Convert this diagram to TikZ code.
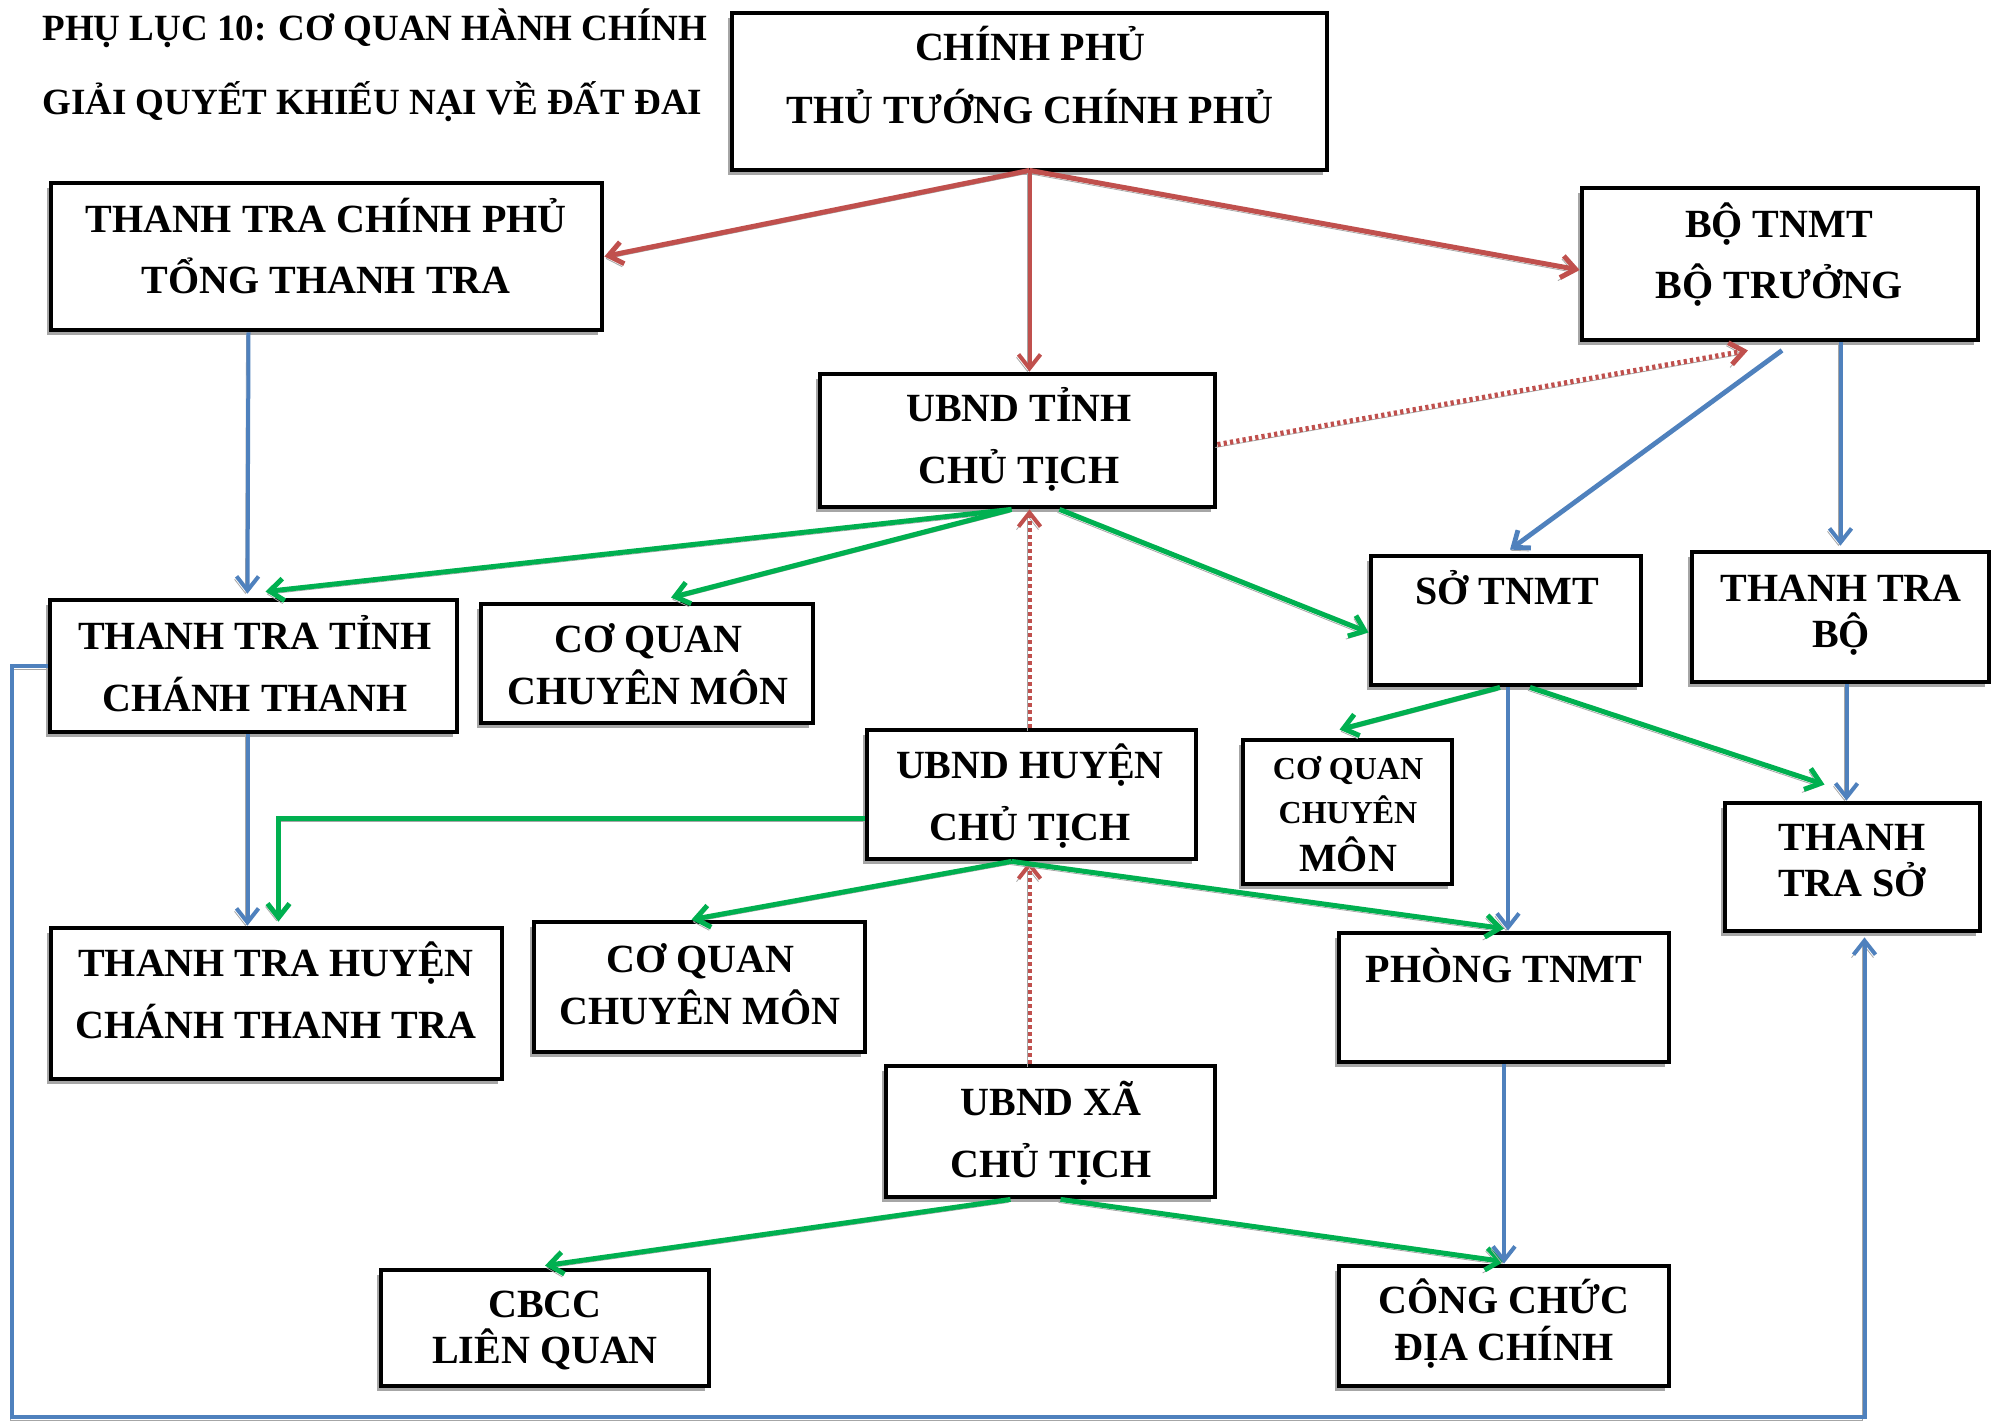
\documentclass[tikz,border=0pt]{standalone}
\usepackage{fontspec}
\setmainfont{Liberation Serif}
\usetikzlibrary{arrows.meta,fit,calc,shadows}
\definecolor{cred}{HTML}{C0504D}
\definecolor{cgreen}{HTML}{00B050}
\definecolor{cblue}{HTML}{4F81BD}
\definecolor{cshadow}{HTML}{A6A6A6}
\begin{document}
\begin{tikzpicture}[x=0.5pt,y=-0.5pt,
  box/.style={draw=black, line width=2.4pt, fill=white, inner sep=0pt,
    drop shadow={shadow xshift=-2pt, shadow yshift=-2.5pt, fill=cshadow, opacity=1}},
  txt/.style={font=\fontsize{20}{24}\selectfont\bfseries, inner sep=0pt, text height=13.2pt, text depth=0pt},
  stxt/.style={font=\fontsize{16}{19}\selectfont\bfseries, inner sep=0pt, text height=10.6pt, text depth=0pt},
  ttl/.style={font=\fontsize{18.5}{22}\selectfont\bfseries, inner sep=0pt, text height=12.25pt, text depth=0pt, anchor=west},
  tip/.style={-{Straight Barb[length=7pt,width=11pt]}},
  shd/.style={preaction={draw=cshadow, transform canvas={xshift=-1pt,yshift=-1.5pt}}},
  redthick/.style={draw=cred, line width=2.5pt, tip, shd},
  redthin/.style={draw=cred, line width=2pt, tip, shd},
  reddot/.style={draw=cred, line width=2.5pt, dash pattern=on 1.6pt off 1.6pt, tip, shd},
  reddash/.style={draw=cred, line width=2pt, dash pattern=on 2pt off 1.5pt, tip, shd},
  grn/.style={draw=cgreen, line width=2.5pt, tip, shd},
  blu/.style={draw=cblue, line width=2pt, tip, shd},
  bluthick/.style={draw=cblue, line width=2.4pt, tip, shd},
]
\useasboundingbox (0,0) rectangle (2007,1421);
\fill[white] (0,0) rectangle (2007,1421);

% title
\node[ttl] (t1) at (42,28) {PHỤ LỤC 10: CƠ QUAN HÀNH CHÍNH};
\node[ttl] (t2) at (42,102) {GIẢI QUYẾT KHIẾU NẠI VỀ ĐẤT ĐAI};

% boxes
\node[box, fit={(732,13)(1327,170)}] (cp) {};
\node[box, fit={(51,183)(602,330)}] (ttcp) {};
\node[box, fit={(1582,188)(1978,340)}] (bo) {};
\node[box, fit={(820,374)(1215,507)}] (ubt) {};
\node[box, fit={(50,600)(457,732)}] (ttt) {};
\node[box, fit={(481,604)(813,723)}] (cqa) {};
\node[box, fit={(1371,556)(1641,685)}] (so) {};
\node[box, fit={(1692,552)(1989,682)}] (ttb) {};
\node[box, fit={(867,730)(1196,859)}] (ubh) {};
\node[box, fit={(1243,740)(1452,884)}] (cqc) {};
\node[box, fit={(1725,803)(1980,931)}] (tts) {};
\node[box, fit={(51,928)(502,1079)}] (tth) {};
\node[box, fit={(534,922)(865,1052)}] (cqb) {};
\node[box, fit={(1339,933)(1669,1062)}] (ph) {};
\node[box, fit={(886,1066)(1215,1197)}] (ubx) {};
\node[box, fit={(381,1270)(709,1386)}] (cbcc) {};
\node[box, fit={(1339,1266)(1669,1386)}] (ccdc) {};

% texts
\node[txt] (cp1) at (1030,47) {CHÍNH PHỦ};
\node[txt] (cp2) at (1030,110) {THỦ TƯỚNG CHÍNH PHỦ};
\node[txt] (ttcp1) at (326,219) {THANH TRA CHÍNH PHỦ};
\node[txt] (ttcp2) at (326,280) {TỔNG THANH TRA};
\node[txt] (bo1) at (1779,224) {BỘ TNMT};
\node[txt] (bo2) at (1779,285) {BỘ TRƯỞNG};
\node[txt] (ubt1) at (1019,408) {UBND TỈNH};
\node[txt] (ubt2) at (1019,470) {CHỦ TỊCH};
\node[txt] (ttt1) at (255,636) {THANH TRA TỈNH};
\node[txt] (ttt2) at (255,698) {CHÁNH THANH};
\node[txt] (cqa1) at (648,639) {CƠ QUAN};
\node[txt] (cqa2) at (648,691) {CHUYÊN MÔN};
\node[txt] (so1) at (1507,591) {SỞ TNMT};
\node[txt] (ttb1) at (1841,588) {THANH TRA};
\node[txt] (ttb2) at (1841,634) {BỘ};
\node[txt] (ubh1) at (1030,765) {UBND HUYỆN};
\node[txt] (ubh2) at (1030,827) {CHỦ TỊCH};
\node[stxt] (cqc1) at (1348,769) {CƠ QUAN};
\node[stxt] (cqc2) at (1348,813) {CHUYÊN};
\node[txt] (cqc3) at (1348,858) {MÔN};
\node[txt] (tts1) at (1852,837) {THANH};
\node[txt] (tts2) at (1852,883) {TRA SỞ};
\node[txt] (tth1) at (276,963) {THANH TRA HUYỆN};
\node[txt] (tth2) at (276,1025) {CHÁNH THANH TRA};
\node[txt] (cqb1) at (700,959) {CƠ QUAN};
\node[txt] (cqb2) at (700,1011) {CHUYÊN MÔN};
\node[txt] (ph1) at (1504,969) {PHÒNG TNMT};
\node[txt] (ubx1) at (1051,1102) {UBND XÃ};
\node[txt] (ubx2) at (1051,1164) {CHỦ TỊCH};
\node[txt] (cbcc1) at (545,1304) {CBCC};
\node[txt] (cbcc2) at (545,1350) {LIÊN QUAN};
\node[txt] (ccdc1) at (1504,1300) {CÔNG CHỨC};
\node[txt] (ccdc2) at (1504,1347) {ĐỊA CHÍNH};

% red connectors
\coordinate (cpb) at ($(cp.south)+(0,-2)$);
\draw[redthick] (cpb) -- (ttcp.east);
\draw[redthick] (cpb) -- ([yshift=-3pt]bo.west);
\draw[redthin] (cpb) -- (cpb |- ubt.north);
\draw[reddot] ([yshift=-2pt]ubt.east) -- ($(bo.south west)!0.42!(bo.south east)+(0,8)$);
\draw[reddash] (ubh.north -| cpb) -- (ubt.south -| cpb);
\draw[reddash] (ubx.north -| cpb) -- (ubh.south -| cpb);

% green connectors
\draw[grn] ([xshift=-3pt]ubt.south) -- ([xshift=6pt,yshift=3pt]ttt.north);
\draw[grn] ([xshift=-3pt]ubt.south) -- ([xshift=12pt,yshift=2pt]cqa.north);
\draw[grn] ([xshift=21pt]ubt.south) -- ([yshift=-6pt]so.west);
\draw[grn] ([yshift=-12pt]ubh.west) -| ([xshift=1pt,yshift=2pt]tth.north);
\draw[grn] ([xshift=-10pt]ubh.south) -- ([xshift=-4pt]cqb.north);
\draw[grn] ([xshift=-10pt]ubh.south) -- ([yshift=1pt]ph.north);
\draw[grn] ([xshift=-3pt]so.south) -- ([xshift=-4pt,yshift=4pt]cqc.north);
\draw[grn] ([xshift=12pt]so.south) -- ([xshift=-14pt,yshift=8pt]tts.north);
\draw[grn] ([xshift=-20pt]ubx.south) -- ([yshift=1pt]cbcc.north);
\draw[grn] ([xshift=5pt]ubx.south) -- ([yshift=1pt]ccdc.north);

% blue connectors
\draw[blu] ([xshift=-39pt]ttcp.south) -- ([xshift=-3pt,yshift=2pt]ttt.north);
\draw[bluthick] ([xshift=1pt,yshift=-4pt]bo.south) -- ([xshift=2pt,yshift=2pt]so.north);
\draw[blu] (ttb.north |- bo.south) -- ([yshift=2pt]ttb.north);
\draw[blu] ([xshift=-3pt]ttt.south) -- ([xshift=-3pt]ttt.south |- tth.north);
\draw[blu] ([xshift=1pt]so.south) -- ([xshift=1pt]so.south |- ph.north);
\draw[blu] ([xshift=3pt]ttb.south) -- ([xshift=3pt]ttb.south |- tts.north);
\draw[blu] (ph.south) -- (ccdc.north);
\coordinate (loopc) at (12,1417);
\draw[blu] (ttt.west) -| (loopc) -| ([xshift=6pt,yshift=-2pt]tts.south);
\end{tikzpicture}
\end{document}
